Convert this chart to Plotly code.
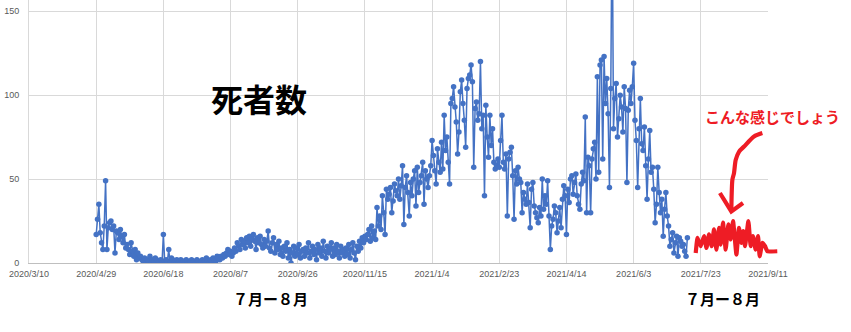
import pandas as pd
import plotly.graph_objects as go

# ---------------- data ----------------
start_date = "2020-04-29"
deaths_2020_apr = [17, 26]
deaths_2020_may = [35, 18, 12, 8, 22, 49, 8, 21, 24, 25, 20, 22, 6, 19, 18, 14, 20, 16, 12, 17, 9, 11, 8, 5, 12, 7, 4, 8, 2, 6, 3]
deaths_2020_jun = [4, 2, 1, 3, 0, 2, 1, 4, 0, 2, 1, 3, 2, 0, 1, 2, 0, 17, 1, 2, 1, 8, 0, 3, 2, 0, 1, 2, 0, 1]
deaths_2020_jul = [2, 0, 1, 0, 2, 1, 0, 1, 2, 0, 1, 0, 2, 1, 0, 1, 2, 0, 1, 3, 1, 0, 2, 1, 3, 2, 1, 4, 3, 2, 4]
deaths_2020_aug = [3, 5, 4, 6, 8, 5, 7, 4, 6, 9, 7, 12, 10, 8, 14, 11, 13, 9, 15, 12, 16, 10, 14, 17, 13, 8, 15, 12, 16, 11, 9]
deaths_2020_sep = [14, 10, 13, 19, 9, 7, 12, 15, 6, 11, 8, 13, 5, 9, 4, 10, 7, 12, 3, 8, 0, 6, 10, 4, 9, 5, 11, 3, 7, 8]
deaths_2020_oct = [4, 9, 6, 12, 3, 7, 10, 5, 8, 2, 11, 6, 9, 4, 13, 7, 3, 10, 6, 8, 12, 4, 9, 5, 11, 7, 3, 10, 6, 8, 4]
deaths_2020_nov = [9, 5, 11, 3, 8, 12, 6, 2, 10, 7, 13, 9, 15, 12, 16, 14, 17, 20, 13, 22, 15, 19, 14, 33, 22, 28, 20, 40, 30, 17]
deaths_2020_dec = [44, 38, 41, 45, 30, 37, 47, 43, 40, 50, 38, 46, 58, 23, 45, 52, 42, 28, 48, 40, 50, 55, 34, 57, 42, 48, 52, 60, 35, 55, 50]
deaths_2021_jan = [45, 52, 58, 73, 64, 55, 47, 68, 60, 54, 72, 56, 88, 67, 75, 60, 47, 95, 98, 105, 93, 84, 65, 78, 102, 109, 95, 85, 69, 104, 110]
deaths_2021_feb = [112, 118, 108, 57, 92, 96, 85, 89, 120, 80, 88, 40, 94, 75, 63, 88, 70, 80, 60, 56, 58, 62, 57, 73, 88, 60, 56, 65]
deaths_2021_mar = [28, 62, 66, 69, 52, 26, 55, 47, 57, 50, 48, 30, 42, 38, 35, 47, 36, 21, 44, 48, 34, 30, 27, 24, 33, 28, 50, 32, 40, 35, 49]
deaths_2021_apr = [28, 8, 22, 26, 34, 30, 18, 25, 33, 21, 38, 46, 40, 17, 44, 36, 50, 52, 41, 48, 53, 40, 35, 32, 47, 54, 49, 87, 30, 63]
deaths_2021_may = [58, 30, 62, 68, 72, 50, 111, 54, 118, 121, 62, 123, 95, 110, 89, 45, 104, 216, 80, 98, 107, 75, 86, 100, 93, 78, 105, 92, 48, 91, 103]
deaths_2021_jun = [95, 105, 119, 85, 73, 45, 80, 98, 71, 67, 81, 58, 38, 62, 79, 54, 57, 44, 24, 35, 57, 42, 30, 38, 16, 32, 42, 28, 22, 10]
deaths_2021_jul = [14, 18, 6, 12, 16, 4, 15, 13, 10, 11, 7, 4, 15]

# hand-drawn red "forecast" squiggle (days after 2021-07-01, value)
squiggle_days = [18.2, 19.5, 21.9, 24.4, 26.2, 28.1, 30.1, 31.8, 33.6, 35.6, 36.8, 38.5, 40.5, 42.5,
                 44.2, 46.0, 48.5, 50.4, 52.2, 53.6, 54.9, 57.4, 59.1, 60.8, 62.8, 64.6, 65.8, 67.8,
                 69.8, 71.5, 78.9]
squiggle_vals = [6, 15, 10, 16, 9, 17, 10, 20, 8, 21, 11, 24, 8, 23,
                 14, 25, 5, 21, 12, 19, 10, 25, 10, 16, 8, 16, 4, 12,
                 10, 7, 7]
# hand-drawn arrow (days after 2021-07-01, value)
arrow_days = [67.8, 61.6, 54.2, 50.5, 48.0, 46.7, 45.5, 45.0, 44.7]
arrow_vals = [77.4, 75.4, 69.4, 66.4, 61.5, 53.6, 49.6, 41.7, 30.7]
arrowhead_days = [36.2, 44.7, 53.4]
arrowhead_vals = [41.7, 30.7, 35.7]

x_tick_dates = ["2020-03-10", "2020-04-29", "2020-06-18", "2020-08-07", "2020-09-26", "2020-11-15",
                "2021-01-04", "2021-02-23", "2021-04-14", "2021-06-03", "2021-07-23", "2021-09-11"]
x_tick_text = ["2020/3/10", "2020/4/29", "2020/6/18", "2020/8/7", "2020/9/26", "2020/11/15",
               "2021/1/4", "2021/2/23", "2021/4/14", "2021/6/3", "2021/7/23", "2021/9/11"]
y_tick_vals = [0, 50, 100, 150]
y_tick_text = ["0", "50", "100", "150"]

# ---------------- build ----------------
deaths = (deaths_2020_apr + deaths_2020_may + deaths_2020_jun + deaths_2020_jul + deaths_2020_aug +
          deaths_2020_sep + deaths_2020_oct + deaths_2020_nov + deaths_2020_dec + deaths_2021_jan +
          deaths_2021_feb + deaths_2021_mar + deaths_2021_apr + deaths_2021_may + deaths_2021_jun +
          deaths_2021_jul)
dates = pd.date_range(start_date, periods=len(deaths), freq="D")

base = pd.Timestamp("2021-07-01")
sq_x = [base + pd.Timedelta(days=d) for d in squiggle_days]
ar_x = [base + pd.Timedelta(days=d) for d in arrow_days]
ah_x = [base + pd.Timedelta(days=d) for d in arrowhead_days]

W, H = 851, 332
L, R, T, B = 29, 0, 0, 69
plot_w = W - L - R
x_start = pd.Timestamp(x_tick_dates[0])
x_end = pd.Timestamp(x_tick_dates[-1])
main_px = 739
dom_end = main_px / plot_w
x2_end = x_start + (x_end - x_start) * (plot_w / main_px)

RED = "#ee1c25"
BLUE = "#4472c4"
GRID = "#d9d9d9"
TICKC = "#595959"

fig = go.Figure()
fig.add_trace(go.Scatter(x=dates, y=deaths, mode="lines+markers",
                         line=dict(color=BLUE, width=1.5),
                         marker=dict(color=BLUE, size=5.5),
                         showlegend=False, hoverinfo="skip"))
for xs, ys, smooth in [(sq_x, squiggle_vals, 0.3), (ar_x, arrow_vals, 0.8), (ah_x, arrowhead_vals, 0)]:
    fig.add_trace(go.Scatter(x=xs, y=ys, mode="lines", xaxis="x2", yaxis="y2",
                             line=dict(color=RED, width=4.2,
                                       shape="spline" if smooth else "linear", smoothing=smooth or 1),
                             showlegend=False, hoverinfo="skip"))

ymax = 156.7
fig.update_layout(
    width=W, height=H, autosize=False,
    margin=dict(l=L, r=R, t=T, b=B, pad=0, autoexpand=False),
    paper_bgcolor="white", plot_bgcolor="rgba(0,0,0,0)",
    font=dict(family="Noto Sans CJK JP, Noto Sans, sans-serif"),
    xaxis=dict(domain=[0, dom_end], range=[x_start, x_end], type="date", anchor="y",
               tickmode="array", tickvals=x_tick_dates, ticktext=x_tick_text,
               showgrid=True, gridcolor=GRID, gridwidth=1,
               showline=True, linecolor="#bfbfbf", linewidth=1,
               ticks="", ticklabelstandoff=2, automargin=False,
               tickfont=dict(size=9, color=TICKC, family="Liberation Sans, Arial, sans-serif"),
               zeroline=False, fixedrange=True),
    yaxis=dict(domain=[0, 1], range=[0, ymax], tickmode="array", tickvals=y_tick_vals, ticktext=y_tick_text,
               anchor="x",
               showgrid=True, gridcolor=GRID, gridwidth=1,
               showline=True, linecolor=GRID, linewidth=1,
               ticks="", ticklabelstandoff=7, automargin=False,
               tickfont=dict(size=9, color=TICKC, family="Liberation Sans, Arial, sans-serif"),
               zeroline=False, fixedrange=True),
    xaxis2=dict(domain=[0, 1], range=[x_start, x2_end], type="date", anchor="y2",
                showgrid=False, showline=False, showticklabels=False, ticks="", zeroline=False,
                automargin=False, fixedrange=True),
    yaxis2=dict(domain=[0, 1], range=[0, ymax], anchor="x2",
                showgrid=False, showline=False, showticklabels=False, ticks="", zeroline=False,
                automargin=False, fixedrange=True),
    annotations=[
        dict(text="<b>死者数</b>", xref="paper", yref="paper", x=(259 - L) / plot_w, y=(H - B - 98) / (H - B - T),
             xanchor="center", yanchor="middle", showarrow=False,
             font=dict(size=32, color="black", family="Noto Sans CJK JP")),
        dict(text="<b>７月ー８月</b>", xref="paper", yref="paper", x=(270 - L) / plot_w, y=-(298 - (H - B)) / (H - B - T),
             xanchor="center", yanchor="middle", showarrow=False,
             font=dict(size=15, color="black", family="Noto Sans CJK JP")),
        dict(text="<b>７月ー８月</b>", xref="paper", yref="paper", x=(722 - L) / plot_w, y=-(298 - (H - B)) / (H - B - T),
             xanchor="center", yanchor="middle", showarrow=False,
             font=dict(size=15, color="black", family="Noto Sans CJK JP")),
        dict(text="<b>こんな感じでしょう</b>", xref="paper", yref="paper", x=(772 - L) / plot_w, y=(H - B - 116) / (H - B - T),
             xanchor="center", yanchor="middle", showarrow=False,
             font=dict(size=15, color=RED, family="Noto Sans CJK JP")),
    ],
)

fig.write_html("out.html", config={"displayModeBar": False, "responsive": False})
